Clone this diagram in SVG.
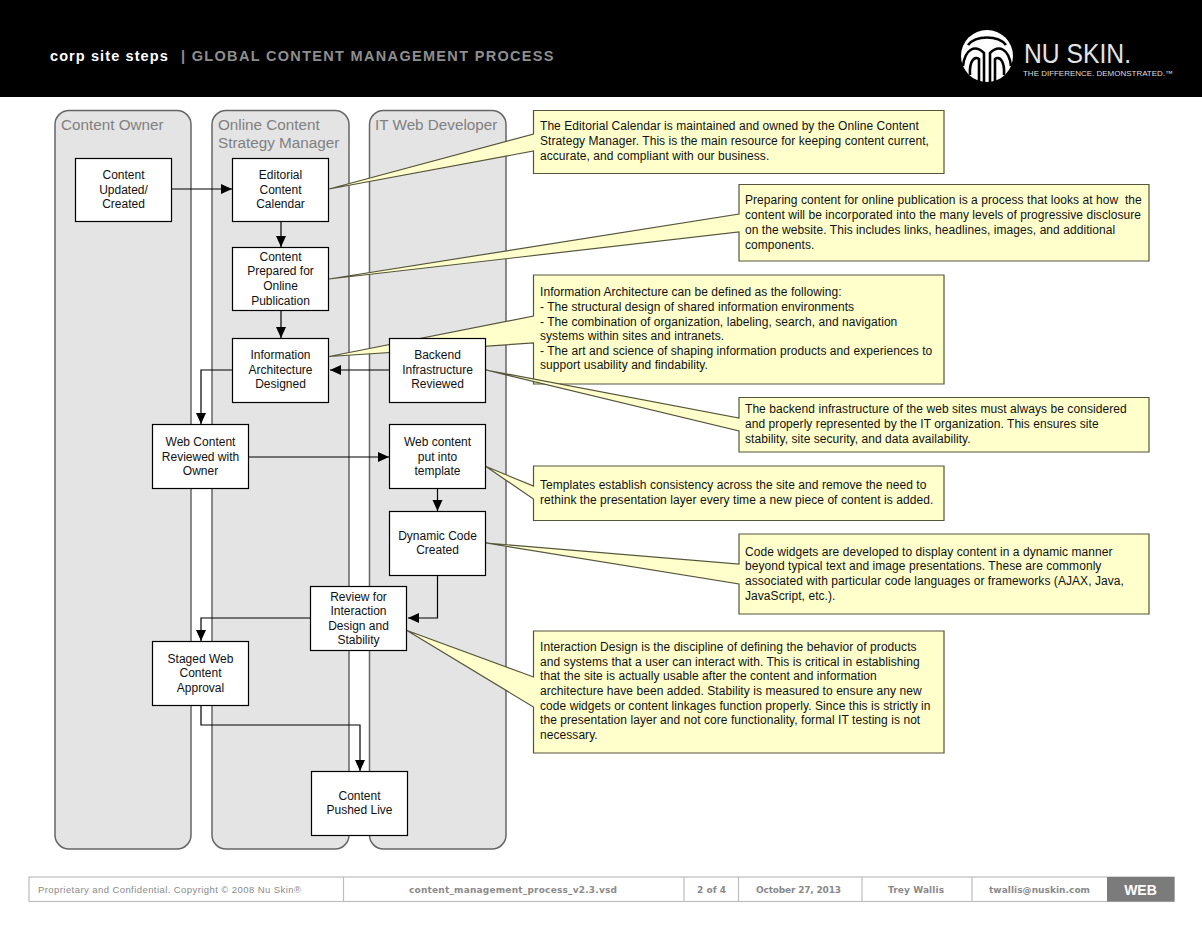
<svg xmlns="http://www.w3.org/2000/svg" width="1202" height="931" viewBox="0 0 1202 931">
<style>
text{font-family:"Liberation Sans",Arial,sans-serif}
.lane{fill:#e4e4e4;stroke:#666;stroke-width:1.5}
.lt{font-size:15.25px;fill:#808080}
.box{fill:#fff;stroke:#000;stroke-width:1.2}
.bt{font-size:12px;fill:#111;text-anchor:middle}
.co{fill:#ffffcc;stroke:#55553c;stroke-width:1.2}
.ct{font-size:12px;fill:#111;letter-spacing:.06px;white-space:pre}
.c{fill:none;stroke:#000;stroke-width:1.2;marker-end:url(#a)}
.ft{fill:none;stroke:#bdbdbd;stroke-width:1.2}
.fx{font-family:"DejaVu Sans",sans-serif;font-size:9px;fill:#8a8a8a;font-weight:bold;text-anchor:middle}
</style>
<defs><marker id="a" markerUnits="userSpaceOnUse" markerWidth="12" markerHeight="12" refX="11" refY="5" orient="auto"><path d="M0 0L11 5L0 10Z" fill="#000"/></marker></defs>
<rect id="header" width="1202" height="97" fill="#000"/>
<text x="50" y="61" font-size="14.5" font-weight="bold" fill="#fff" letter-spacing="1.1">corp site steps</text>
<text x="181" y="61" font-size="14.5" font-weight="bold" fill="#8e8e8e" letter-spacing="1.32">| GLOBAL CONTENT MANAGEMENT PROCESS</text>
<g id="logo">
<circle cx="987" cy="56" r="26" fill="#fff"/>
<path d="M963 66C965 49 975 44 984 53V82M1011 66C1009 49 999 44 990 53V82M970 75C969 60 975 56 979 59V82M1004 75C1005 60 999 56 995 59V82M968 45C976 35 998 35 1006 45" fill="none" stroke="#000" stroke-width="2.6"/>
<text x="1024" y="63" font-size="28" fill="#e4e4e4" textLength="107" lengthAdjust="spacingAndGlyphs">NU SKIN.</text>
<text x="1023" y="76" font-size="7.500" fill="#dedede" textLength="150" lengthAdjust="spacingAndGlyphs">THE DIFFERENCE. DEMONSTRATED.™</text>
</g>
<g id="lanes">
<rect id="lane-owner" class="lane" x="55" y="110.500" width="136" height="738.500" rx="14"/>
<rect id="lane-strategy" class="lane" x="212" y="110.500" width="137" height="738.500" rx="14"/>
<rect id="lane-it" class="lane" x="369.500" y="110.500" width="136.500" height="738.500" rx="14"/>
<text class="lt" x="61" y="130">Content Owner</text>
<text class="lt" x="218" y="130">Online Content</text>
<text class="lt" x="218" y="148">Strategy Manager</text>
<text class="lt" x="375" y="130">IT Web Developer</text>
</g>
<g id="callouts">
<g id="callout-1"><path class="co" d="M533.500 110.500H944V173.500H533.500V151L329 189L533.500 134Z"/><text class="ct" x="540" y="130">The Editorial Calendar is maintained and owned by the Online Content</text><text class="ct" x="540" y="145">Strategy Manager. This is the main resource for keeping content current,</text><text class="ct" x="540" y="160">accurate, and compliant with our business.</text></g>
<g id="callout-2"><path class="co" d="M739 184.500H1149V261H739V232L329 279L739 214Z"/><text class="ct" x="745" y="204">Preparing content for online publication is a process that looks at how  the</text><text class="ct" x="745" y="219">content will be incorporated into the many levels of progressive disclosure</text><text class="ct" x="745" y="234">on the website. This includes links, headlines, images, and additional</text><text class="ct" x="745" y="249">components.</text></g>
<g id="callout-3"><path class="co" d="M533.500 275H944V384H533.500V343L329 356.500L533.500 316Z"/><text class="ct" x="540" y="296">Information Architecture can be defined as the following:</text><text class="ct" x="540" y="311">- The structural design of shared information environments</text><text class="ct" x="540" y="326">- The combination of organization, labeling, search, and navigation</text><text class="ct" x="540" y="340">systems within sites and intranets.</text><text class="ct" x="540" y="355">- The art and science of shaping information products and experiences to</text><text class="ct" x="540" y="369">support usability and findability.</text></g>
<g id="callout-4"><path class="co" d="M739 397.500H1149V452H739V431L486 370L739 418Z"/><text class="ct" x="745" y="413">The backend infrastructure of the web sites must always be considered</text><text class="ct" x="745" y="428">and properly represented by the IT organization. This ensures site</text><text class="ct" x="745" y="443">stability, site security, and data availability.</text></g>
<g id="callout-5"><path class="co" d="M533.500 466H944V520.500H533.500V499L486 466.500L533.500 486Z"/><text class="ct" x="540" y="489">Templates establish consistency across the site and remove the need to</text><text class="ct" x="540" y="504">rethink the presentation layer every time a new piece of content is added.</text></g>
<g id="callout-6"><path class="co" d="M739 534H1149V614H739V584L486 543L739 564Z"/><text class="ct" x="745" y="556">Code widgets are developed to display content in a dynamic manner</text><text class="ct" x="745" y="570">beyond typical text and image presentations. These are commonly</text><text class="ct" x="745" y="585">associated with particular code languages or frameworks (AJAX, Java,</text><text class="ct" x="745" y="600">JavaScript, etc.).</text></g>
<g id="callout-7"><path class="co" d="M533.500 631H944V753H533.500V707L407 630.500L533.500 677Z"/><text class="ct" x="540" y="651">Interaction Design is the discipline of defining the behavior of products</text><text class="ct" x="540" y="666">and systems that a user can interact with. This is critical in establishing</text><text class="ct" x="540" y="680">that the site is actually usable after the content and information</text><text class="ct" x="540" y="695">architecture have been added. Stability is measured to ensure any new</text><text class="ct" x="540" y="710">code widgets or content linkages function properly. Since this is strictly in</text><text class="ct" x="540" y="724">the presentation layer and not core functionality, formal IT testing is not</text><text class="ct" x="540" y="739">necessary.</text></g>
</g>
<g id="connectors">
<path class="c" d="M172 189H232"/>
<path class="c" d="M281 222V247"/>
<path class="c" d="M281 311V338"/>
<path class="c" d="M389 370H330"/>
<path class="c" d="M233 370H201V424"/>
<path class="c" d="M248 457H389"/>
<path class="c" d="M437.500 489V511"/>
<path class="c" d="M437.500 576V618H408"/>
<path class="c" d="M310 618H201V641"/>
<path class="c" d="M201 706V725H360V771"/>
</g>
<g id="n1"><rect class="box" x="75.500" y="158.500" width="96" height="63"/><text class="bt" x="123.500" y="179">Content</text><text class="bt" x="123.500" y="193.500">Updated/</text><text class="bt" x="123.500" y="208">Created</text></g>
<g id="n2"><rect class="box" x="232.500" y="158.500" width="96" height="63"/><text class="bt" x="280.500" y="179">Editorial</text><text class="bt" x="280.500" y="193.500">Content</text><text class="bt" x="280.500" y="208">Calendar</text></g>
<g id="n3"><rect class="box" x="232.500" y="247.500" width="96" height="63"/><text class="bt" x="280.500" y="261">Content</text><text class="bt" x="280.500" y="275">Prepared for</text><text class="bt" x="280.500" y="290">Online</text><text class="bt" x="280.500" y="305">Publication</text></g>
<g id="n4"><rect class="box" x="232.500" y="338.500" width="96" height="64"/><text class="bt" x="280.500" y="359">Information</text><text class="bt" x="280.500" y="374">Architecture</text><text class="bt" x="280.500" y="388">Designed</text></g>
<g id="n5"><rect class="box" x="389.500" y="338.500" width="96" height="64"/><text class="bt" x="437.500" y="359">Backend</text><text class="bt" x="437.500" y="374">Infrastructure</text><text class="bt" x="437.500" y="388">Reviewed</text></g>
<g id="n6"><rect class="box" x="152.500" y="424.500" width="96" height="64"/><text class="bt" x="200.500" y="446">Web Content</text><text class="bt" x="200.500" y="461">Reviewed with</text><text class="bt" x="200.500" y="475">Owner</text></g>
<g id="n7"><rect class="box" x="389.500" y="424.500" width="96" height="64"/><text class="bt" x="437.500" y="446">Web content</text><text class="bt" x="437.500" y="461">put into</text><text class="bt" x="437.500" y="475">template</text></g>
<g id="n8"><rect class="box" x="389.500" y="511.500" width="96" height="64"/><text class="bt" x="437.500" y="540">Dynamic Code</text><text class="bt" x="437.500" y="554">Created</text></g>
<g id="n9"><rect class="box" x="310.500" y="586.500" width="96" height="64"/><text class="bt" x="358.500" y="601">Review for</text><text class="bt" x="358.500" y="615">Interaction</text><text class="bt" x="358.500" y="630">Design and</text><text class="bt" x="358.500" y="644">Stability</text></g>
<g id="n10"><rect class="box" x="152.500" y="641.500" width="96" height="64"/><text class="bt" x="200.500" y="663">Staged Web</text><text class="bt" x="200.500" y="677">Content</text><text class="bt" x="200.500" y="692">Approval</text></g>
<g id="n11"><rect class="box" x="311.500" y="771.500" width="96" height="64"/><text class="bt" x="359.500" y="800">Content</text><text class="bt" x="359.500" y="814">Pushed Live</text></g>
<g id="footer">
<rect class="ft" x="29" y="877" width="1145" height="24.500"/>
<path class="ft" d="M343.500 877V901M684 877V901M738.500 877V901M862 877V901M972 877V901"/>
<rect x="1107" y="877" width="67.500" height="24.500" fill="#7b7b7b"/>
<text x="38" y="893" font-family="DejaVu Sans,sans-serif" font-size="9.500" fill="#8a8a8a" textLength="263" lengthAdjust="spacing">Proprietary and Confidential. Copyright © 2008 Nu Skin®</text>
<text class="fx" x="513" y="893" textLength="208">content_management_process_v2.3.vsd</text>
<text class="fx" x="711.500" y="893" textLength="29">2 of 4</text>
<text class="fx" x="798.500" y="893" textLength="85">October 27, 2013</text>
<text class="fx" x="916" y="893" textLength="56">Trey Wallis</text>
<text class="fx" x="1039.500" y="893" textLength="101">twallis@nuskin.com</text>
<text x="1140.500" y="895" font-family="DejaVu Sans,sans-serif" font-size="14" font-weight="bold" fill="#fff" text-anchor="middle">WEB</text>
</g>
</svg>
